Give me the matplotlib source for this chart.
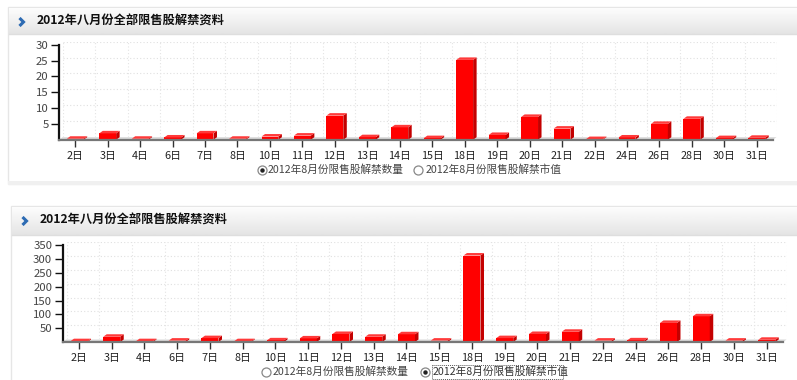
import numpy as np
import matplotlib
matplotlib.use('Agg')
import matplotlib.pyplot as plt
from matplotlib.patches import Rectangle, Polygon

plt.rcParams['font.family'] = ['Noto Sans CJK SC', 'DejaVu Sans']

# 数据
days = ['2日', '3日', '4日', '6日', '7日', '8日', '10日', '11日', '12日', '13日', '14日',
        '15日', '18日', '19日', '20日', '21日', '22日', '24日', '26日', '28日', '30日', '31日']
shuliang = [0.3, 2.0, 0.3, 0.7, 2.0, 0.3, 1.0, 1.3, 7.6, 0.8, 3.9,
            0.5, 25.2, 1.5, 7.2, 3.5, 0.2, 0.7, 5.0, 6.6, 0.5, 0.6]
shizhi = [3, 19, 3, 5, 14, 3, 6, 13, 29, 19, 28,
          5, 313, 14, 29, 37, 5, 6, 69, 93, 5, 8]
yticks_1 = [5, 10, 15, 20, 25, 30]
yticks_2 = [50, 100, 150, 200, 250, 300, 350]
title = '2012年八月份全部限售股解禁资料'
legend_labels = ['2012年8月份限售股解禁数量', '2012年8月份限售股解禁市值']

W, H = 797, 380
fig = plt.figure(figsize=(W / 100, H / 100), dpi=100)
bg = fig.add_axes([0, 0, 1, 1])
bg.set_xlim(0, W)
bg.set_ylim(H, 0)
bg.axis('off')
bg.set_zorder(0)


def px_axes(l, t, r, b):
    return fig.add_axes([l / W, 1 - b / H, (r - l) / W, (b - t) / H])


def panel(x0, y0, y1, hh, tx, ty, cx, cy):
    # 外框
    bg.add_patch(Rectangle((x0, y0), W - x0 + 2, y1 - y0, fc='white', ec='#e6e6e6', lw=1))
    # 标题栏渐变
    grad = np.linspace(0.99, 0.895, 40).reshape(-1, 1)
    bg.imshow(grad, extent=(x0 + 1, W, y0 + hh, y0 + 1), aspect='auto', cmap='gray',
              vmin=0, vmax=1, zorder=1)
    bg.plot([x0 + 1, W], [y0 + hh, y0 + hh], color='#dedede', lw=1, zorder=2)
    bg.plot([cx, cx + 4, cx], [cy - 4, cy, cy + 4], color='#2d6bb3', lw=2.2,
            solid_capstyle='butt', solid_joinstyle='miter', zorder=3)
    bg.text(tx, ty, title, fontsize=8.8, fontweight='bold', color='#111111',
            va='center', ha='left', zorder=3)
    bg.add_patch(Rectangle((x0, y1 - 3), W - x0, 4, fc='#f0f0f0', ec='none', zorder=1))


def radio(x, y, selected):
    bg.plot([x], [y], marker='o', ms=6.5, mfc='white', mec='#888888', mew=0.9, zorder=3)
    if selected:
        bg.plot([x], [y], marker='o', ms=2.2, mfc='#222222', mec='#222222', zorder=4)


def chart(box, vals, ymax, yticks, depth=(3.5, 2.5), wall=(4, 3)):
    l, t, r, b = box
    n = len(vals)
    x = np.arange(n)
    wpx, hpx = r - l, b - t
    dx = depth[0] * n / wpx
    dy = depth[1] * ymax / hpx

    # 背板网格
    wa = px_axes(l + wall[0], t - wall[1], r + wall[0], b - wall[1])
    wa.set_xlim(-0.5, n - 0.5)
    wa.set_ylim(0, ymax)
    wa.axis('off')
    wa.set_zorder(1)
    for yv in yticks:
        wa.axhline(yv, color='#e0e0e0', lw=0.8, ls=(0, (1, 2)))
    for k in range(n + 1):
        wa.axvline(k - 0.5, color='#e4e4e4', lw=0.8, ls=(0, (1, 2)))

    ax = px_axes(l, t, r, b)
    ax.set_zorder(2)
    ax.patch.set_alpha(0)
    ax.set_xlim(-0.5, n - 0.5)
    ax.set_ylim(0, ymax)

    # 底面
    ax.add_patch(Polygon([(-0.5, 0), (n - 0.5, 0), (n - 0.5 + dx, dy), (-0.5 + dx, dy)],
                         closed=True, fc='#d8d8d8', ec='none', clip_on=False, zorder=1))

    w = 0.52
    ax.bar(x, vals, width=w, color='#ff0000', zorder=3)
    for xi, v in zip(x, vals):
        ax.add_patch(Polygon([(xi + w / 2, 0), (xi + w / 2 + dx, dy), (xi + w / 2 + dx, v + dy),
                              (xi + w / 2, v)], closed=True, fc='#c40000', ec='none',
                             clip_on=False, zorder=3))
        ax.add_patch(Polygon([(xi - w / 2, v), (xi + w / 2, v), (xi + w / 2 + dx, v + dy),
                              (xi - w / 2 + dx, v + dy)], closed=True, fc='#ff3a3a', ec='none',
                             clip_on=False, zorder=3))

    ax.spines['top'].set_visible(False)
    ax.spines['right'].set_visible(False)
    ax.spines['left'].set_color('#111111')
    ax.spines['left'].set_linewidth(1.6)
    ax.spines['bottom'].set_color('#777777')
    ax.spines['bottom'].set_linewidth(1.6)
    ax.spines['bottom'].set_zorder(4)
    ax.set_yticks(yticks)
    ax.set_yticklabels([str(v) for v in yticks])
    ax.set_xticks(x)
    ax.set_xticklabels(days)
    ax.tick_params(axis='y', length=6, width=1, color='#111111', labelsize=8.2,
                   labelcolor='#444444', pad=1.5)
    ax.tick_params(axis='x', length=5, width=1, color='#333333', labelsize=7.8,
                   labelcolor='#222222', pad=3)
    return ax


# 上图：数量
panel(8, 7, 184, 27, 37, 21, 19.5, 22)
chart((59, 44.7, 773, 139.7), shuliang, 30, yticks_1)
radio(262.5, 170, True)
bg.text(268, 170, legend_labels[0], fontsize=7.7, color='#444444', va='center', ha='left')
radio(418.5, 170, False)
bg.text(426, 170, legend_labels[1], fontsize=7.7, color='#444444', va='center', ha='left')

# 下图：市值
panel(11, 206, 384, 29, 40, 220.5, 22.5, 221)
chart((62.6, 245.3, 783.1, 342), shizhi, 350, yticks_2)
radio(266.5, 372, False)
bg.text(273, 372, legend_labels[0], fontsize=7.7, color='#444444', va='center', ha='left')
radio(425, 372, True)
bg.text(433, 372, legend_labels[1], fontsize=7.7, color='#333333', va='center', ha='left')
bg.add_patch(Rectangle((432, 365), 131, 14, fc='none', ec='#555555', lw=0.7, ls=(0, (1, 1)),
                       zorder=4))

fig.savefig('out.png', dpi=100)
